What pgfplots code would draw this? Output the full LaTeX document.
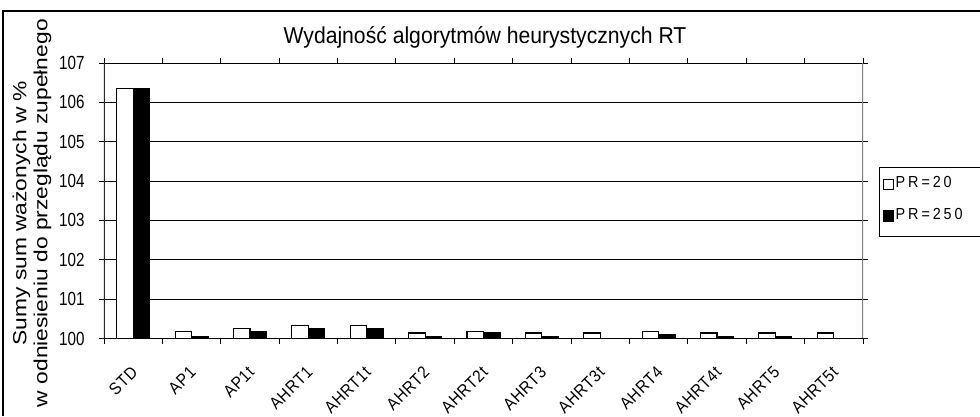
\documentclass[border=0pt]{standalone}
\usepackage{fontspec}
\setmainfont{Liberation Sans}
\newfontfamily\titlefont{Liberation Sans}[FakeStretch=0.92]
\newfontfamily\tickfont{Liberation Sans}[FakeStretch=0.8]
\newfontfamily\xtickfont{Liberation Sans}[FakeStretch=0.9,LetterSpace=4]
\newfontfamily\ylabfont{Liberation Sans}[FakeStretch=1.2]
\newfontfamily\legfont{Liberation Sans}[FakeStretch=0.9,LetterSpace=18]
\usepackage{pgfplots}
\pgfplotsset{compat=1.18}
\begin{document}
\begin{tikzpicture}[x=1pt,y=1pt]
\path[use as bounding box] (0,0) rectangle (980,416);
\draw[line width=1.3pt] (3,0) -- (3,405) -- (980,405);
\node[font=\titlefont\fontsize{23}{26}\selectfont, anchor=center] at (485,379) {Wydajność algorytmów heurystycznych RT};
\begin{axis}[
  at={(104pt,77.5pt)}, anchor=south west,
  scale only axis, width=759pt, height=275.5pt,
  ybar=0pt, bar width=16.5pt,
  xmin=-0.5, xmax=12.5, ymin=100, ymax=107,
  ytick={100,101,...,107},
  xtick={0,...,12},
  xticklabels={STD,AP1,AP1t,AHRT1,AHRT1t,AHRT2,AHRT2t,AHRT3,AHRT3t,AHRT4,AHRT4t,AHRT5,AHRT5t},
  major x tick style={draw=none},
  extra x ticks={-0.5,0.5,...,12.5},
  extra x tick labels={},
  extra x tick style={major x tick style={draw=black, line width=0.9pt}, major tick length=5pt, tick align=outside},
  tick align=outside, major tick length=5pt,
  ytick style={draw=black, line width=0.9pt},
  ymajorgrids, grid style={black, line width=0.9pt},
  axis line style={draw=none},
  /pgf/number format/assume math mode=true,
  yticklabel style={font=\tickfont\fontsize{19}{21}\selectfont, xshift=-11pt},
  xticklabel style={font=\xtickfont\fontsize{17}{19}\selectfont, xshift=-3pt, yshift=-17pt, rotate=45, anchor=north east},
  ylabel={Sumy sum ważonych w \%\\w odniesieniu do przeglądu zupełnego},
  ylabel style={font=\ylabfont\fontsize{19}{21}\selectfont, align=center, at={(rel axis cs:-0.0949,0.455)}, anchor=center, rotate=0},
  legend style={draw=none, fill=none, at={(rel axis cs:1.026,0.595)}, anchor=north west, font=\legfont\fontsize{16}{18}\selectfont, row sep=15pt, inner sep=0pt},
  legend cell align=left,
  clip=true,
]
\addplot[fill=white, draw=black, line width=1.1pt, legend image code/.code={\draw[fill=white,draw=black,line width=0.8pt] (0pt,-6pt) rectangle (10pt,4pt);}] coordinates {
 (0,106.36) (1,100.17) (2,100.25) (3,100.33) (4,100.33) (5,100.14) (6,100.17)
 (7,100.14) (8,100.14) (9,100.17) (10,100.14) (11,100.14) (12,100.14)};
\addplot[fill=black, draw=black, line width=1.1pt, legend image code/.code={\draw[fill=black,draw=black,line width=0.8pt] (0pt,-7pt) rectangle (10pt,4pt);}] coordinates {
 (0,106.36) (1,100.06) (2,100.17) (3,100.25) (4,100.25) (5,100.06) (6,100.14)
 (7,100.05) (8,100.00) (9,100.09) (10,100.05) (11,100.05) (12,100.00)};
\legend{PR=20,PR=250}
\draw[black!85, line width=1.2pt] (rel axis cs:0,0) -- (rel axis cs:0,1);
\draw[gray, line width=1.2pt] (rel axis cs:1,0) -- (rel axis cs:1,1);
\draw[black, line width=1.2pt] (rel axis cs:0,0) -- (rel axis cs:1,0);
\end{axis}
\draw[line width=1pt] (879,180) rectangle (981,249);
\end{tikzpicture}
\end{document}
